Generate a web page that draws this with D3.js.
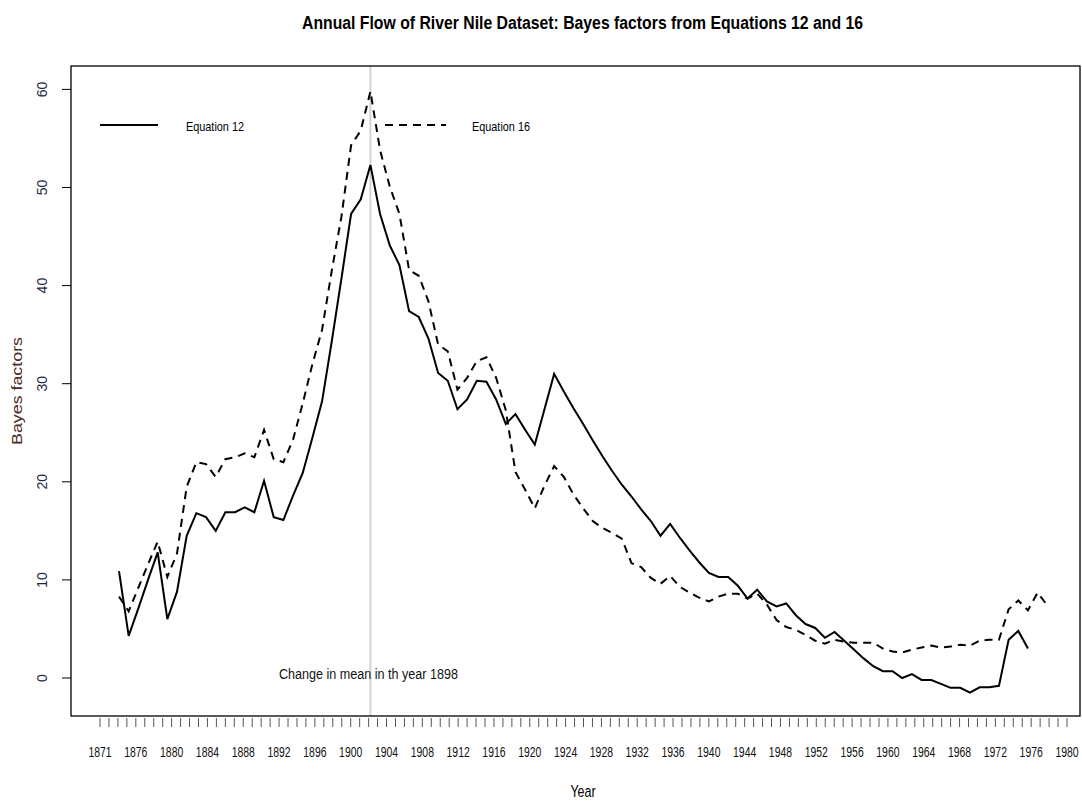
<!DOCTYPE html>
<html>
<head>
<meta charset="utf-8">
<script src="https://cdn.jsdelivr.net/npm/d3@7"></script>
<style>
  body { margin: 0; background: #fff; }
  svg text { font-family: "Liberation Sans Narrow", "Arial Narrow", "Liberation Sans", sans-serif; }
</style>
</head>
<body>
<svg id="chart" width="1082" height="802"></svg>
<script>
'use strict';

var eq12 = [10.9, 4.3, 7.1, 10.0, 12.8, 6.0, 8.8, 14.5, 16.8, 16.4,
    15.0, 16.9, 16.9, 17.4, 16.9, 20.1, 16.4, 16.1, 18.6, 20.9,
    24.5, 28.2, 34.3, 40.7, 47.3, 48.8, 52.3, 47.3, 44.1, 42.1,
    37.4, 36.8, 34.6, 31.1, 30.3, 27.4, 28.4, 30.3, 30.2, 28.4,
    25.9, 26.9, 25.3, 23.8, 27.4, 31.0, 29.2, 27.5, 25.9, 24.2,
    22.6, 21.1, 19.7, 18.5, 17.2, 16.0, 14.5, 15.7, 14.3, 13.0,
    11.8, 10.7, 10.3, 10.3, 9.4, 8.1, 9.0, 7.8, 7.3, 7.6,
    6.4, 5.5, 5.1, 4.1, 4.7, 3.8, 2.9, 2.0, 1.2, 0.7,
    0.7, 0.0, 0.4, -0.2, -0.2, -0.6, -1.0, -1.0, -1.5, -0.95,
    -0.95, -0.8, 3.9, 4.8, 3.0];

var eq16 = [8.3, 6.8, 9.2, 11.6, 13.9, 10.3, 12.7, 19.5, 22.0, 21.8,
    20.5, 22.3, 22.5, 22.9, 22.5, 25.3, 22.3, 22.0, 24.3, 28.0,
    32.0, 35.5, 41.5, 47.0, 54.3, 55.8, 59.8, 53.8, 50.1, 47.3,
    41.6, 41.0, 38.4, 34.0, 33.3, 29.4, 30.6, 32.3, 32.7, 30.6,
    27.3, 21.0, 19.2, 17.3, 19.6, 21.6, 20.5, 18.7, 17.3, 16.0,
    15.3, 14.8, 14.2, 11.7, 11.3, 10.2, 9.6, 10.4, 9.3, 8.7,
    8.2, 7.8, 8.3, 8.6, 8.6, 8.1, 8.6, 7.5, 5.9, 5.2,
    4.9, 4.4, 3.8, 3.5, 3.9, 3.7, 3.6, 3.6, 3.6, 3.0,
    2.7, 2.6, 2.9, 3.1, 3.3, 3.1, 3.2, 3.4, 3.3, 3.8,
    3.9, 3.9, 7.0, 7.9, 6.9, 8.7, 7.4];

// x axis: a tick at every position, a label on every 4th one
var tickCount = 109;
var yearLabels = ["1871", "1876", "1880", "1884", "1888", "1892", "1896", "1900",
    "1904", "1908", "1912", "1916", "1920", "1924", "1928", "1932", "1936",
    "1940", "1944", "1948", "1952", "1956", "1960", "1964", "1968", "1972",
    "1976", "1980"];
var yTicks = [0, 10, 20, 30, 40, 50, 60];

var changeIndex = 26; // observation where the mean changes
var changeText = "Change in mean in th year 1898";

var svg = d3.select("#chart");

var box = { left: 71, top: 66, right: 1080, bottom: 716 };

var x = d3.scaleLinear().domain([0, eq16.length - 1]).range([119, 1047.3]);
var xTick = d3.scaleLinear().domain([0, tickCount - 1]).range([100, 1067]);
var y = d3.scaleLinear().domain([0, 60]).range([678, 89.4]);

// no narrow font installed, so squeeze the regular one horizontally
var narrow = 0.72;

// title
svg.append("text")
    .attr("x", 582.5)
    .attr("y", 29)
    .attr("text-anchor", "middle")
    .attr("textLength", 561)
    .attr("lengthAdjust", "spacingAndGlyphs")
    .style("font-size", "18px")
    .style("font-weight", "bold")
    .text("Annual Flow of River Nile Dataset: Bayes factors from Equations 12 and 16");

// change line
svg.append("line")
    .attr("x1", x(changeIndex)).attr("x2", x(changeIndex))
    .attr("y1", box.top).attr("y2", box.bottom)
    .attr("stroke", "#d3d3d3")
    .attr("stroke-width", 2);

var line = d3.line()
    .x(function (d, i) { return x(i); })
    .y(function (d) { return y(d); });

svg.append("path")
    .datum(eq16)
    .attr("d", line)
    .attr("fill", "none")
    .attr("stroke", "#000")
    .attr("stroke-width", 2)
    .attr("stroke-dasharray", "8,6");

svg.append("path")
    .datum(eq12)
    .attr("d", line)
    .attr("fill", "none")
    .attr("stroke", "#000")
    .attr("stroke-width", 2);

// frame
svg.append("rect")
    .attr("x", box.left).attr("y", box.top)
    .attr("width", box.right - box.left)
    .attr("height", box.bottom - box.top)
    .attr("fill", "none")
    .attr("stroke", "#000")
    .attr("stroke-width", 1.3);

// x ticks
var xg = svg.append("g");
xg.selectAll("line")
    .data(d3.range(tickCount))
    .enter().append("line")
    .attr("x1", function (d) { return xTick(d); })
    .attr("x2", function (d) { return xTick(d); })
    .attr("y1", 718).attr("y2", 727)
    .attr("stroke", "#555")
    .attr("stroke-width", 1);

xg.selectAll("text")
    .data(yearLabels)
    .enter().append("text")
    .attr("transform", function (d, i) {
        return "translate(" + xTick(i * 4) + ",757) scale(" + narrow + ",1)";
    })
    .attr("text-anchor", "middle")
    .style("font-size", "14.5px")
    .attr("fill", "#111")
    .text(function (d) { return d; });

svg.append("text")
    .attr("transform", "translate(583,797) scale(0.78,1)")
    .attr("text-anchor", "middle")
    .style("font-size", "16px")
    .text("Year");

// y ticks
var yg = svg.append("g");
yg.selectAll("line")
    .data(yTicks)
    .enter().append("line")
    .attr("x1", 62).attr("x2", box.left)
    .attr("y1", function (d) { return y(d); })
    .attr("y2", function (d) { return y(d); })
    .attr("stroke", "#000");

yg.selectAll("text")
    .data(yTicks)
    .enter().append("text")
    .attr("transform", function (d) { return "translate(47," + y(d) + ") rotate(-90)"; })
    .attr("text-anchor", "middle")
    .style("font-family", "'Liberation Sans', Arial, sans-serif")
    .style("font-size", "14px")
    .attr("fill", "#1f2a44")
    .text(function (d) { return d; });

svg.append("text")
    .attr("transform", "translate(22,391) rotate(-90)")
    .attr("text-anchor", "middle")
    .attr("textLength", 108)
    .attr("lengthAdjust", "spacingAndGlyphs")
    .style("font-family", "'Liberation Sans', Arial, sans-serif")
    .style("font-size", "15.5px")
    .attr("fill", "#4b2a24")
    .text("Bayes factors");

// legend
var legend = [
    { label: "Equation 12", x1: 100, x2: 158, tx: 186, dash: null },
    { label: "Equation 16", x1: 385, x2: 446, tx: 472, dash: "8,6" }
];
var lg = svg.append("g").selectAll("g")
    .data(legend)
    .enter().append("g");
lg.append("line")
    .attr("x1", function (d) { return d.x1; })
    .attr("x2", function (d) { return d.x2; })
    .attr("y1", 125).attr("y2", 125)
    .attr("stroke", "#000")
    .attr("stroke-width", 2)
    .attr("stroke-dasharray", function (d) { return d.dash; });
lg.append("text")
    .attr("x", function (d) { return d.tx; })
    .attr("y", 131)
    .attr("textLength", 58)
    .attr("lengthAdjust", "spacingAndGlyphs")
    .style("font-size", "13px")
    .text(function (d) { return d.label; });

// annotation
svg.append("text")
    .attr("x", 368.5)
    .attr("y", 679)
    .attr("text-anchor", "middle")
    .attr("textLength", 179)
    .attr("lengthAdjust", "spacingAndGlyphs")
    .style("font-size", "15.5px")
    .attr("fill", "#111")
    .text(changeText);
</script>
</body>
</html>
